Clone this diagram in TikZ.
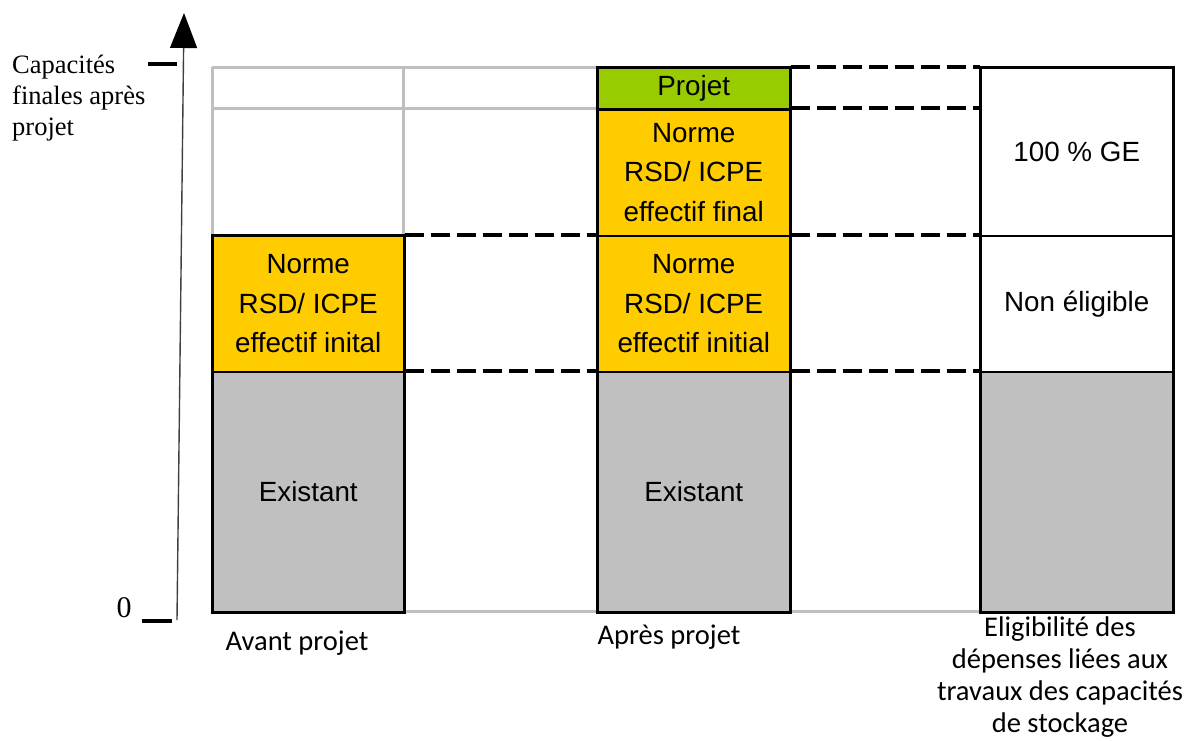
\documentclass[tikz,border=0pt]{standalone}
\usepackage{fontspec}
\setmainfont{Liberation Serif}
\newfontfamily\boxfont{Liberation Sans}
\newfontfamily\capfont{Carlito}
\usetikzlibrary{arrows.meta}
\definecolor{normeyellow}{HTML}{FFCC00}
\definecolor{projetgreen}{HTML}{99CC00}
\definecolor{existgray}{HTML}{C0C0C0}
\definecolor{gridgray}{HTML}{BFBFBF}
\begin{document}
\begin{tikzpicture}[x=1pt,y=-1pt,
  bar/.style={draw=black, line width=1.5pt, inner sep=0pt, anchor=north west,
    align=center, font=\boxfont\fontsize{27.8}{39.5}\selectfont},
  frame/.style={draw=black, line width=3pt},
  gridline/.style={draw=gridgray, line width=3pt},
  levelline/.style={draw=black, line width=4pt, dash pattern=on 19pt off 7pt},
  tick/.style={draw=black, line width=4pt},
  axislabel/.style={inner sep=0pt, align=left, font=\fontsize{26.5}{31}\selectfont},
  caption/.style={inner sep=0pt, align=center, font=\capfont\fontsize{28.5}{32}\selectfont}
]
\useasboundingbox (0,0) rectangle (1186,740);

% background grid of the first two columns
\coordinate (g1) at (212,67);
\coordinate (g2) at (597,67);
\coordinate (g3) at (212,108);
\coordinate (g4) at (597,108);
\coordinate (g5) at (403,67);
\coordinate (g6) at (403,235);
\coordinate (g7) at (212,235);
\coordinate (base1) at (212,611);
\coordinate (base2) at (980,611);
\path[gridline] (g1) -- (g2) (g3) -- (g4) (g1) -- (g7) (g5) -- (g6) (g2) -- (g4 |- g6);
\path[gridline] (base1) -- (base2);

% column "Avant projet"
\node[bar, fill=normeyellow, minimum width=191pt, minimum height=136pt] (a1) at (212,235)
  {Norme\\RSD/ ICPE\\effectif inital};
\node[bar, fill=existgray, minimum width=191pt, minimum height=240pt] (a2) at (212,371)
  {Existant};
\draw[frame] (a1.north west) rectangle (a2.south east);

% column "Après projet"
\node[bar, fill=projetgreen, minimum width=192pt, minimum height=41pt] (b1) at (597,67)
  {Projet};
\node[bar, fill=normeyellow, minimum width=192pt, minimum height=127pt] (b2) at (597,108)
  {Norme\\RSD/ ICPE\\effectif final};
\node[bar, fill=normeyellow, minimum width=192pt, minimum height=136pt] (b3) at (597,235)
  {Norme\\RSD/ ICPE\\effectif initial};
\node[bar, fill=existgray, minimum width=192pt, minimum height=240pt] (b4) at (597,371)
  {Existant};
\draw[frame] (b1.north west) rectangle (b4.south east);
\draw[frame] (b1.south west) -- (b1.south east);

% eligibility column
\node[bar, fill=white, minimum width=192pt, minimum height=168pt] (c1) at (980,67)
  {100 \% GE};
\node[bar, fill=white, minimum width=192pt, minimum height=136pt] (c2) at (980,235)
  {Non éligible};
\node[bar, fill=existgray, minimum width=192pt, minimum height=240pt] (c3) at (980,371)
  {};
\draw[frame] (c1.north west) rectangle (c3.south east);

% dashed level lines
\draw[levelline] (a1.north east) -- (b3.north west);
\draw[levelline] (a2.north east) -- (b4.north west);
\draw[levelline] (b1.north east) -- (c1.north west);
\draw[levelline] (b2.north east) -- (b2.north east -| c1.west);
\draw[levelline] (b3.north east) -- (c2.north west);
\draw[levelline] (b4.north east) -- (c3.north west);

% vertical axis
\coordinate (ax0) at (177,620);
\coordinate (ax1) at (184,13);
\draw[line width=1.4pt, draw=black!75, -{Triangle[length=35pt,width=27pt,fill=black,color=black]}] (ax0) -- (ax1);
\coordinate (t1a) at (148,64);
\coordinate (t1b) at (177,64);
\coordinate (t0a) at (142,621);
\coordinate (t0b) at (172,621);
\draw[tick] (t1a) -- (t1b);
\draw[tick] (t0a) -- (t0b);
\node[axislabel, anchor=north west] (cap) at (12,55) {Capacités\\finales après\\projet};
\node[inner sep=0pt, font=\fontsize{30}{32}\selectfont] (zero) at (124,608) {0};

% column captions
\node[caption] (avant) at (297,643) {Avant projet};
\node[caption] (apres) at (669,637) {Après projet};
\node[caption] (elig) at (1060,677) {Eligibilité des\\dépenses liées aux\\travaux des capacités\\de stockage};
\end{tikzpicture}
\end{document}
